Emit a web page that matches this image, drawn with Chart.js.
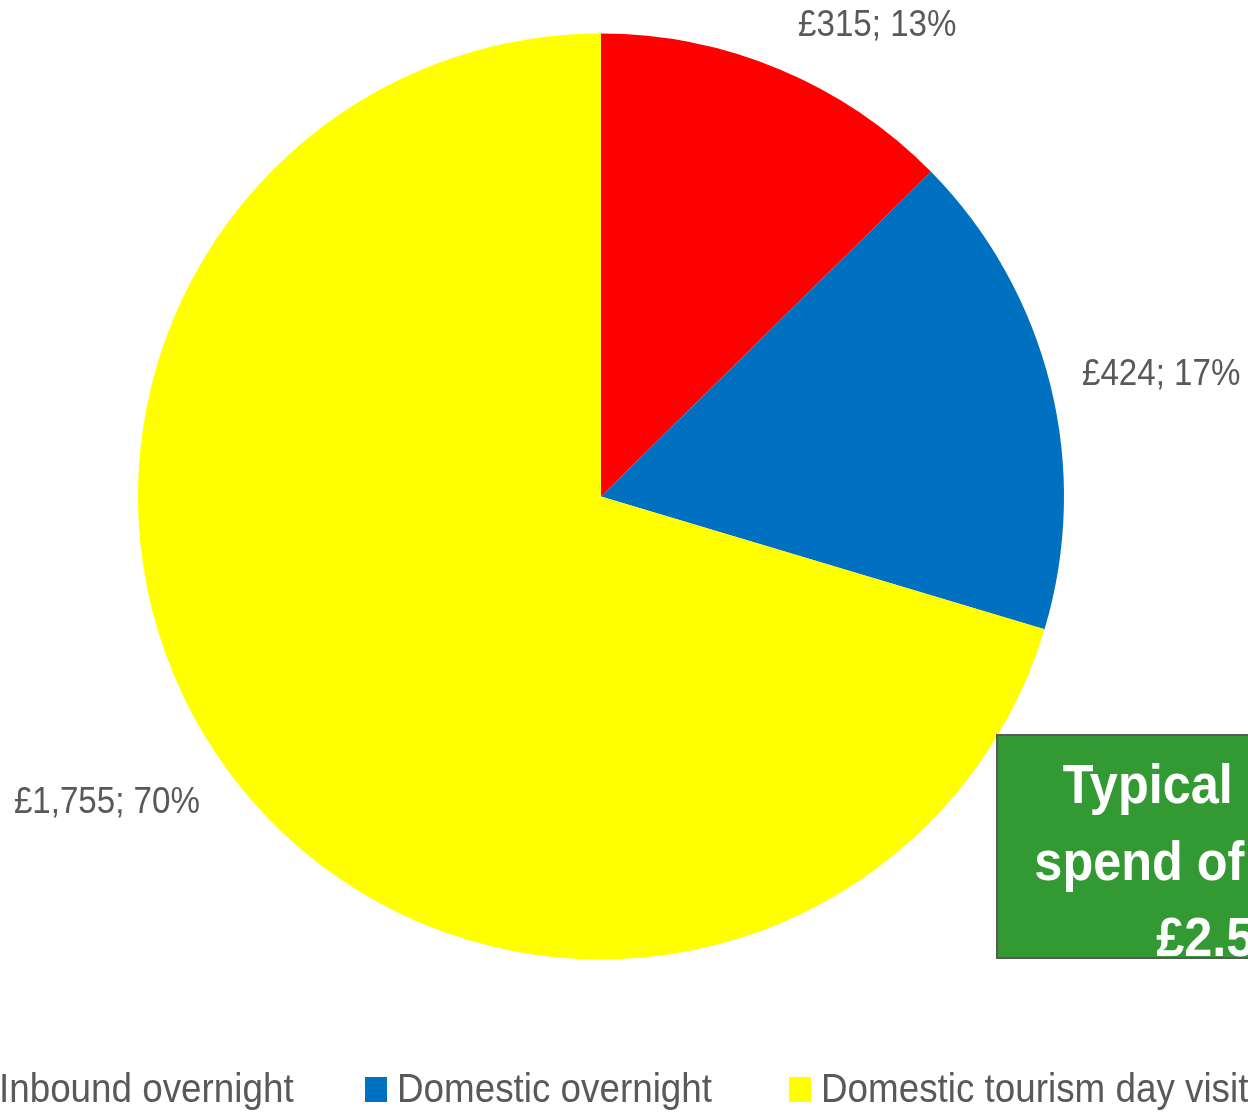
<!DOCTYPE html>
<html><head><meta charset="utf-8">
<script src="https://cdn.jsdelivr.net/npm/chart.js@4"></script>
<style>html,body{margin:0;padding:0;background:#fff;overflow:hidden}canvas{display:block}</style>
</head><body>
<canvas id="c" width="1248" height="1114"></canvas>
<script>
// ---- data ----
const categories = ['Inbound overnight', 'Domestic overnight', 'Domestic tourism day visits'];
const values = [315, 424, 1755];
const colors = ['#FF0000', '#0070C0', '#FFFF00'];
const calloutLines = ['Typical annual', 'spend of visitors', '£2.5bn'];

// ---- layout ----
const TEXT_COLOR = '#595959';
const FONT = "'Liberation Sans', Arial, sans-serif";
const SX = 0.92;
const labelNudge = [[0, 0], [-14, 1], [8, 2]];
const legendBoxX = [-33, 365, 789];

function drawScaled(ctx, text, x, y, align, sx) {
  ctx.save();
  ctx.translate(x, y);
  ctx.scale(sx, 1);
  ctx.textAlign = align;
  ctx.fillText(text, 0, 0);
  ctx.restore();
}

const total = values.reduce((a, b) => a + b, 0);

const overlay = {
  id: 'overlay',
  afterDraw(chart) {
    const ctx = chart.ctx;
    const meta = chart.getDatasetMeta(0);
    // data labels
    ctx.save();
    ctx.fillStyle = TEXT_COLOR;
    ctx.font = '36px ' + FONT;
    ctx.textBaseline = 'middle';
    meta.data.forEach((arc, i) => {
      const p = arc.getProps(['x', 'y', 'startAngle', 'endAngle', 'outerRadius'], true);
      const mid = (p.startAngle + p.endAngle) / 2;
      const r = p.outerRadius + 47;
      const px = p.x + Math.cos(mid) * r + labelNudge[i][0];
      const py = p.y + Math.sin(mid) * r + labelNudge[i][1];
      const pct = Math.round(values[i] / total * 100);
      const txt = '£' + values[i].toLocaleString('en-GB') + '; ' + pct + '%';
      drawScaled(ctx, txt, px, py, Math.cos(mid) >= 0 ? 'left' : 'right', SX);
    });
    ctx.restore();

    // legend
    ctx.save();
    ctx.font = '40px ' + FONT;
    ctx.textBaseline = 'alphabetic';
    categories.forEach((c, i) => {
      const bx = legendBoxX[i];
      ctx.fillStyle = colors[i];
      ctx.fillRect(bx, 1077, 22, 25);
      ctx.fillStyle = TEXT_COLOR;
      drawScaled(ctx, c, bx + 32, 1102, 'left', SX);
    });
    ctx.restore();

    // callout box
    ctx.save();
    ctx.fillStyle = '#339933';
    ctx.fillRect(997, 735, 600, 223);
    ctx.strokeStyle = '#595959';
    ctx.lineWidth = 2;
    ctx.strokeRect(997, 735, 600, 223);
    ctx.fillStyle = '#FFFFFF';
    ctx.font = 'bold 56px ' + FONT;
    ctx.textBaseline = 'alphabetic';
    const baselines = [803, 880, 956];
    calloutLines.forEach((t, i) => drawScaled(ctx, t, 1236, baselines[i], 'center', 0.9));
    ctx.restore();
  }
};

new Chart(document.getElementById('c'), {
  type: 'pie',
  data: {
    labels: categories,
    datasets: [{ data: values, backgroundColor: colors, borderWidth: 0 }]
  },
  options: {
    responsive: false,
    animation: false,
    devicePixelRatio: 1,
    layout: { padding: { left: 138, top: 33, right: 184, bottom: 154 } },
    plugins: { legend: { display: false }, tooltip: { enabled: false } }
  },
  plugins: [overlay]
});
</script>
</body></html>
